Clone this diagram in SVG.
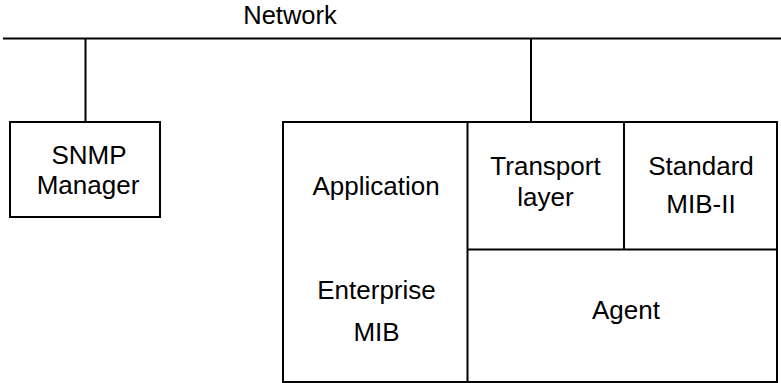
<svg xmlns="http://www.w3.org/2000/svg" width="781" height="383" viewBox="0 0 781 383">
<style>
.ln{stroke:#000;stroke-width:2;fill:none}
.bx{stroke:#000;stroke-width:2;fill:#fff}
text{font-family:"Liberation Sans",Arial,sans-serif;font-size:26px;fill:#000;text-anchor:middle}
</style>
<rect width="781" height="383" fill="#fff"/>
<g id="connectors">
<line class="ln" x1="3" y1="38.5" x2="781" y2="38.5"/>
<line class="ln" x1="85.5" y1="38.5" x2="85.5" y2="122"/>
<line class="ln" x1="531" y1="38.5" x2="531" y2="122"/>
</g>
<g id="network"><text x="290" y="23.5" style="font-size:25.5px">Network</text></g>
<g id="snmp-manager">
<rect class="bx" x="10" y="122" width="150" height="95"/>
<text x="89" y="163.5">SNMP</text>
<text x="88" y="193.5">Manager</text>
</g>
<g id="agent-host">
<rect class="bx" x="283" y="122" width="494" height="260"/>
<line class="ln" x1="467.5" y1="122" x2="467.5" y2="382"/>
<line class="ln" x1="624" y1="122" x2="624" y2="249.5"/>
<line class="ln" x1="467.5" y1="249.5" x2="777" y2="249.5"/>
</g>
<g id="application"><text x="376" y="195">Application</text></g>
<g id="enterprise-mib"><text x="376.5" y="299">Enterprise</text><text x="376.5" y="340.5">MIB</text></g>
<g id="transport"><text x="545.5" y="175">Transport</text><text x="545.5" y="206">layer</text></g>
<g id="standard-mib"><text x="701" y="175">Standard</text><text x="701" y="213">MIB-II</text></g>
<g id="agent"><text x="626" y="319">Agent</text></g>
</svg>
